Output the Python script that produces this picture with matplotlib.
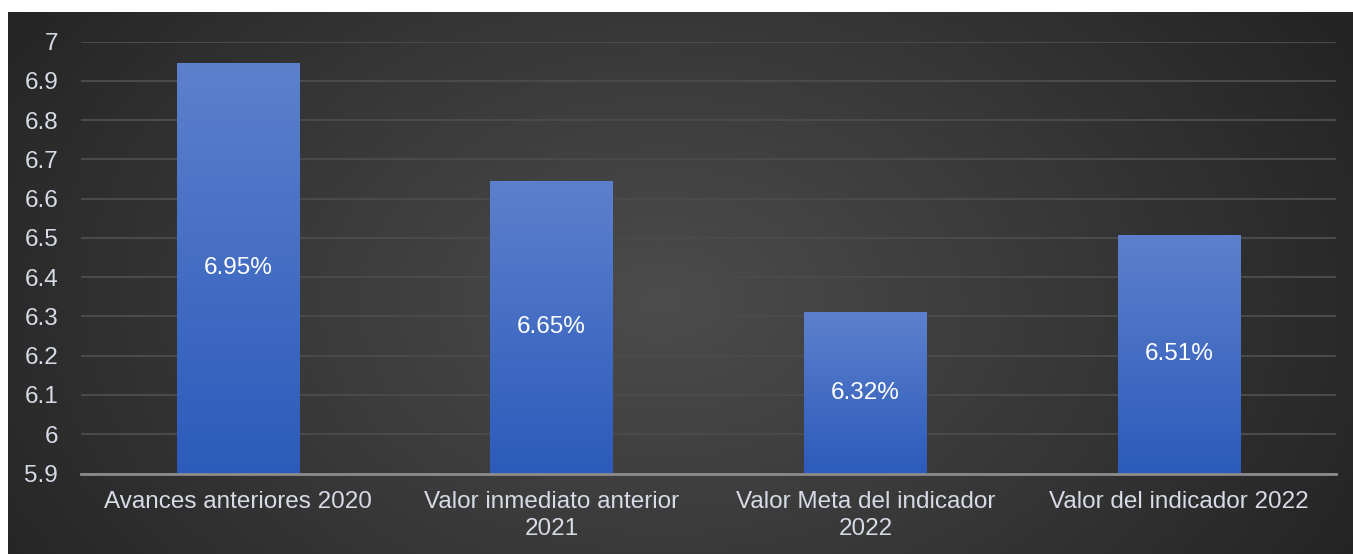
import numpy as np
import matplotlib.pyplot as plt
from matplotlib.colors import LinearSegmentedColormap

categories = ["Avances anteriores 2020", "Valor inmediato anterior\n2021",
              "Valor Meta del indicador\n2022", "Valor del indicador 2022"]
values = [6.947, 6.645, 6.311, 6.507]
bar_labels = ["6.95%", "6.65%", "6.32%", "6.51%"]
yticks = [5.9, 6, 6.1, 6.2, 6.3, 6.4, 6.5, 6.6, 6.7, 6.8, 6.9, 7]
ytick_labels = ["5.9", "6", "6.1", "6.2", "6.3", "6.4", "6.5", "6.6", "6.7", "6.8", "6.9", "7"]

plt.rcParams["font.family"] = ["Liberation Sans", "DejaVu Sans"]
TXT = "#d6dbe6"

W, H = 1353, 554
fig = plt.figure(figsize=(W / 100, H / 100), dpi=100)
fig.patch.set_facecolor("white")

# dark radial background
bg = fig.add_axes([8 / W, 0, 1 - 8 / W, 1 - 12 / H])
bg.axis("off")
yy, xx = np.mgrid[0:300, 0:700]
cx, cy = 340, 160
r = np.sqrt(((xx - cx) / 700) ** 2 + ((yy - cy) / 300) ** 2 * 0.35)
r = np.clip(r / r.max(), 0, 1)
bg_cmap = LinearSegmentedColormap.from_list("bg", ["#4c4c4c", "#383838", "#232323"])
bg.imshow(r, cmap=bg_cmap, aspect="auto", extent=[0, 1, 0, 1])
bg.set_xlim(0, 1)
bg.set_ylim(0, 1)

ax = fig.add_axes([81 / W, 1 - 473.5 / H, (1336 - 81) / W, (473.5 - 41.7) / H])
ax.set_facecolor("none")
x = np.arange(len(categories))
bars = ax.bar(x, [v - 5.9 for v in values], bottom=5.9, width=0.39, color="none",
              edgecolor="none", zorder=3)

bar_cmap = LinearSegmentedColormap.from_list("bar", ["#2c5bbb", "#5c80cc"])
grad = np.linspace(0, 1, 256).reshape(-1, 1)
for b, lab in zip(bars, bar_labels):
    bx, by = b.get_x(), b.get_y()
    bw, bh = b.get_width(), b.get_height()
    ax.imshow(grad, cmap=bar_cmap, aspect="auto", origin="lower",
              extent=[bx, bx + bw, by, by + bh], zorder=3)
    ax.text(bx + bw / 2, by + bh / 2, lab, ha="center", va="center",
            color="white", fontsize=17.5, zorder=4)

ax.set_xlim(-0.5, len(categories) - 0.5)
ax.set_ylim(5.9, 7)
ax.set_yticks(yticks)
ax.set_yticklabels(ytick_labels)
ax.set_xticks(x)
ax.set_xticklabels(categories, linespacing=1.32)
ax.tick_params(axis="y", length=0, pad=16.5, labelsize=17.5, colors=TXT)
ax.tick_params(axis="x", length=0, pad=12.5, labelsize=17.5, colors=TXT)
ax.grid(axis="y", color="#4a4a4a", linewidth=1.5, zorder=0)
for s in ["top", "right", "left"]:
    ax.spines[s].set_visible(False)
ax.spines["bottom"].set_color("#8c8c8c")
ax.spines["bottom"].set_linewidth(2)
ax.spines["bottom"].set_zorder(5)

fig.savefig("out.png", dpi=100)
